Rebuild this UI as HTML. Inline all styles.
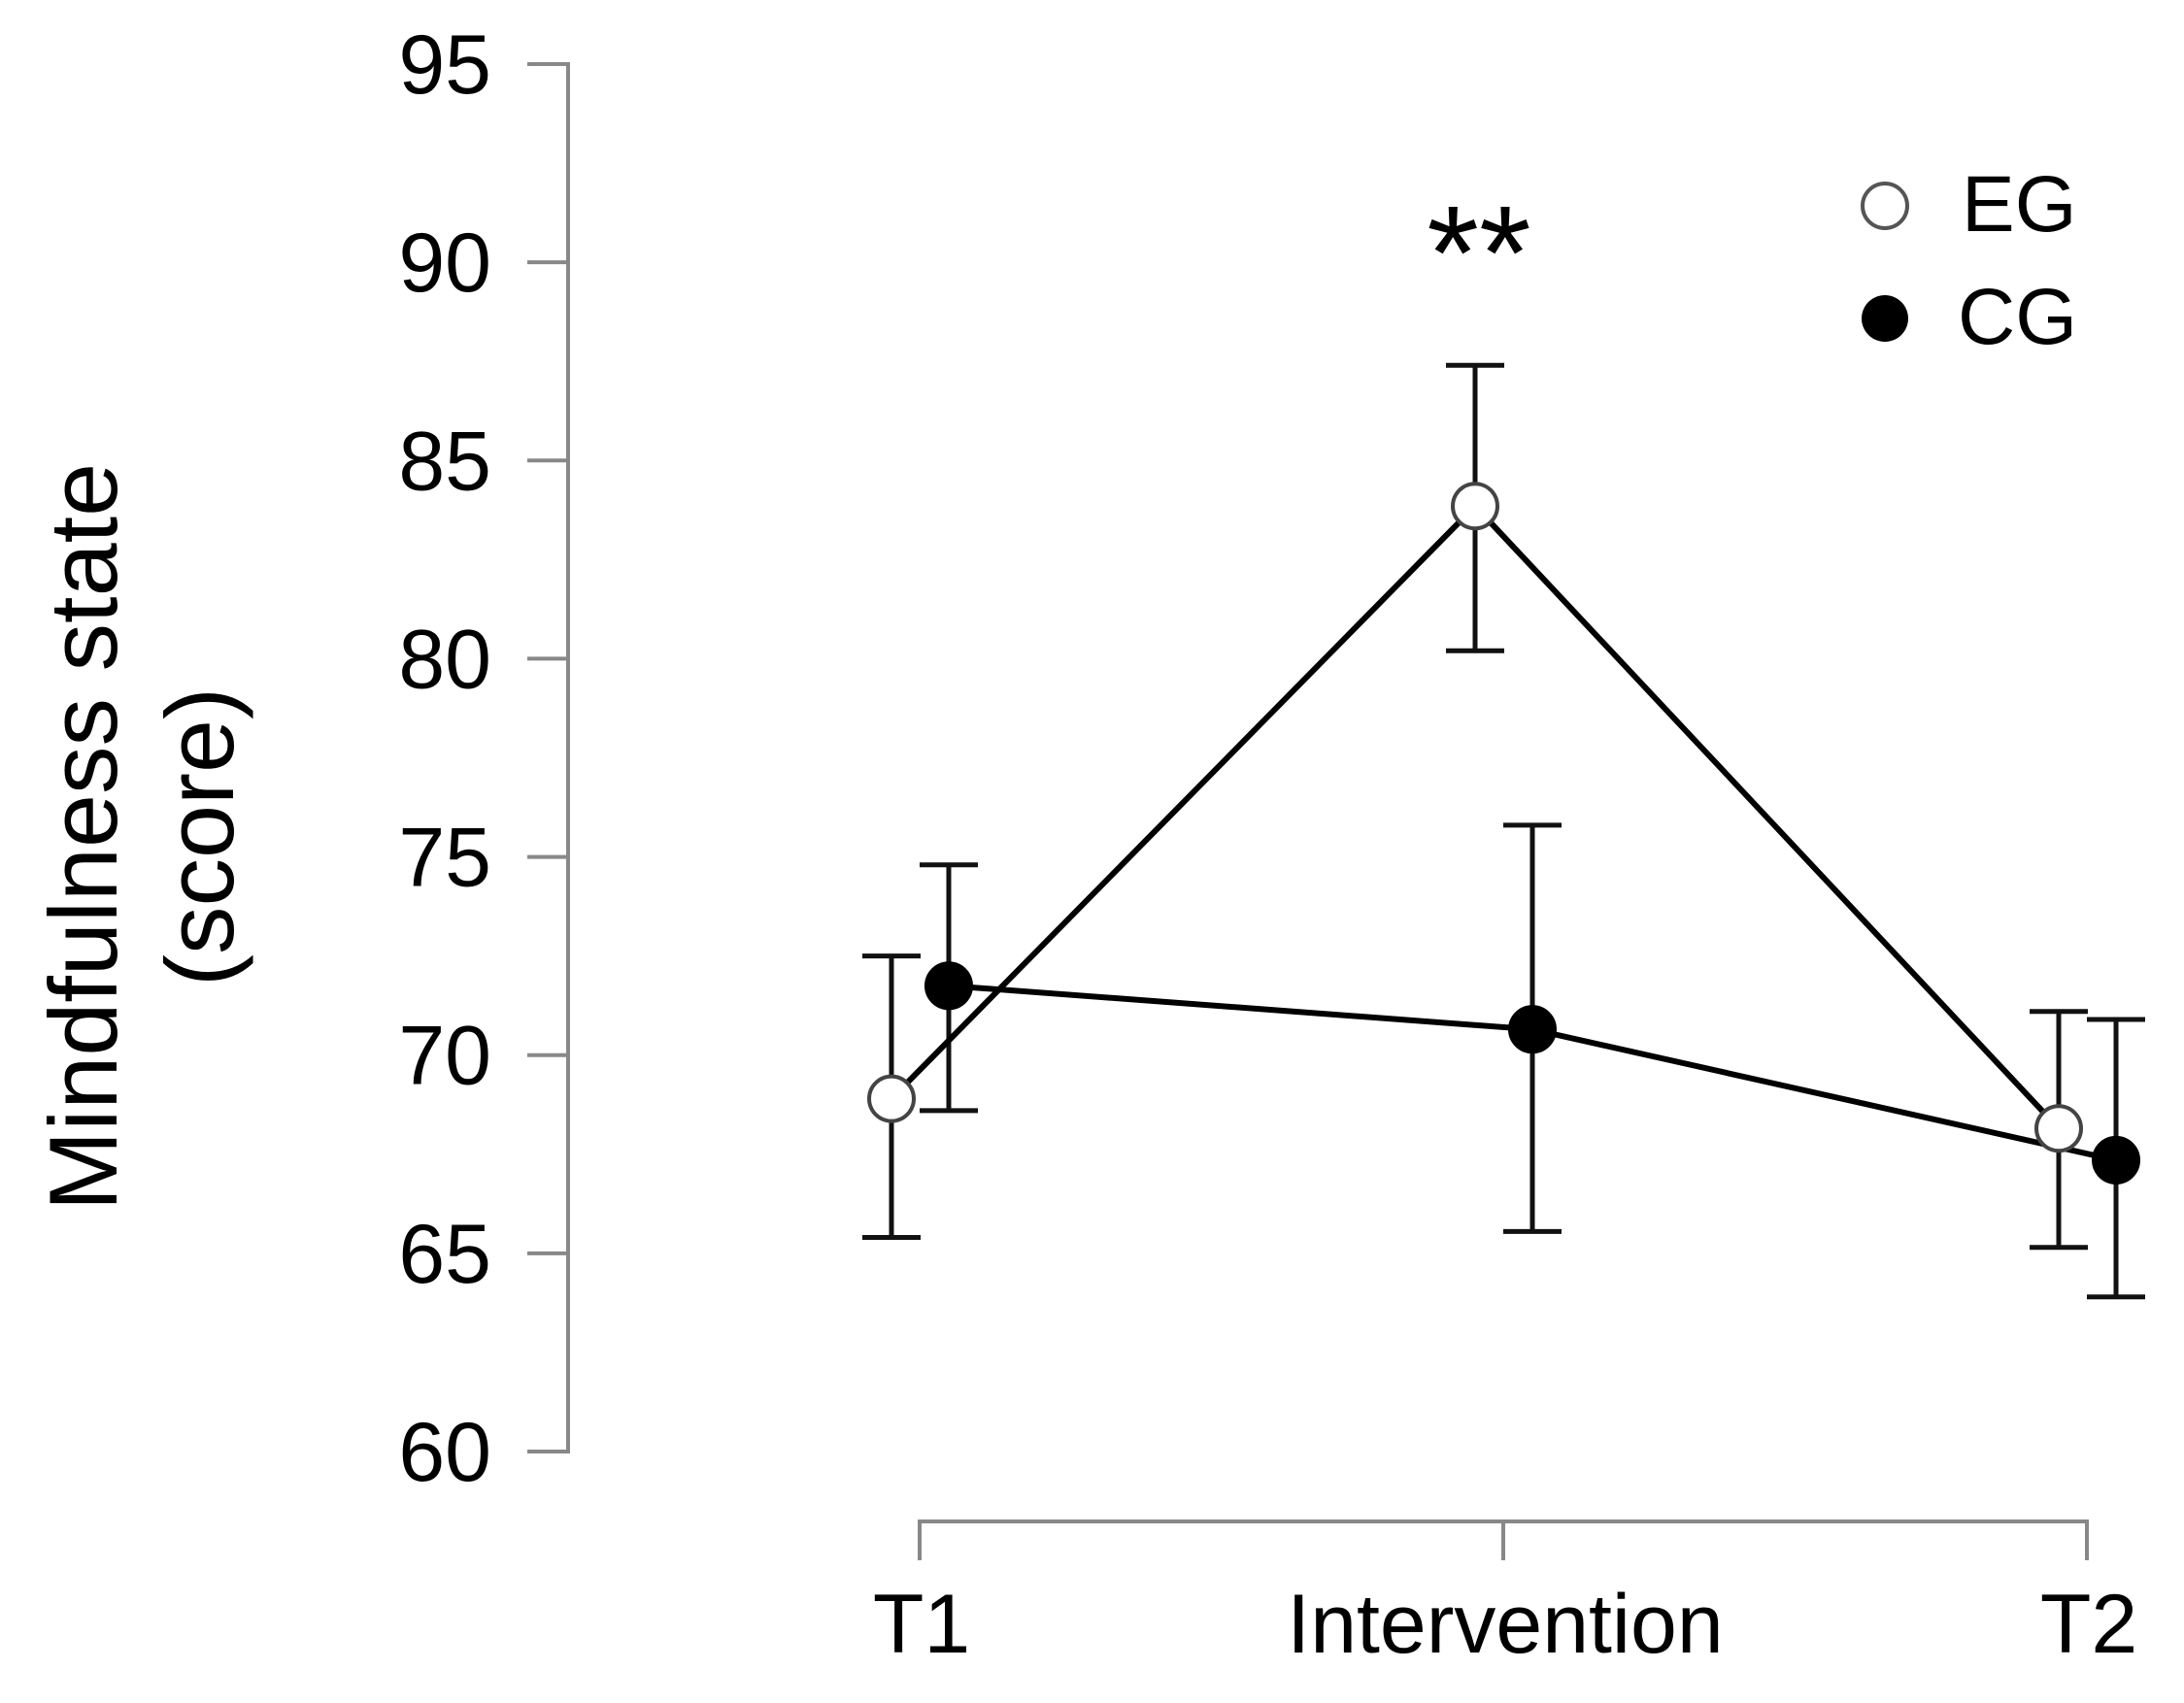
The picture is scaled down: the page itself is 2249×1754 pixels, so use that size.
<!DOCTYPE html>
<html><head><meta charset="utf-8"><style>
html,body{margin:0;padding:0;background:#fff;}
svg{display:block;font-family:"Liberation Sans",Arial,sans-serif;}
</style></head><body>
<svg id="chart" width="2249" height="1754" viewBox="0 0 2249 1754" xmlns="http://www.w3.org/2000/svg">
<g id="axes"></g>
<g id="marks"></g>
<text x="120" y="862" font-size="99" text-anchor="middle" transform="rotate(-90 120 862)">Mindfulness state</text>
<text x="240" y="862" font-size="99" text-anchor="middle" transform="rotate(-90 240 862)">(score)</text>
<text x="1523" y="308" font-size="138" text-anchor="middle">**</text>
<g>
<circle cx="1941" cy="212" r="23" fill="#fff" stroke="#555" stroke-width="4"/>
<text x="2020" y="238" font-size="82">EG</text>
<circle cx="1941" cy="328" r="24" fill="#000"/>
<text x="2016" y="354" font-size="82">CG</text>
</g>
</svg>
<script>
const categories = ["T1", "Intervention", "T2"];
const egMean = [68.9, 83.85, 68.15];
const egUpper = [72.5, 87.4, 71.1];
const egLower = [65.4, 80.2, 65.15];
const cgMean = [71.75, 70.65, 67.35];
const cgUpper = [74.8, 75.8, 70.9];
const cgLower = [68.6, 65.55, 63.9];
const yTicks = [60, 65, 70, 75, 80, 85, 90, 95];

const NS = "http://www.w3.org/2000/svg";
function yScale(v){ return 1495 - (v - 60) * (1495 - 66) / 35; }
function xScale(i){ return 947 + i * 601; }
function mk(tag, attrs, parent){
  const e = document.createElementNS(NS, tag);
  for (const k in attrs) e.setAttribute(k, attrs[k]);
  parent.appendChild(e);
  return e;
}
const axes = document.getElementById('axes');
const marks = document.getElementById('marks');

let yl = mk('line', {x1:585, x2:585, y1:yScale(95), y2:yScale(60), stroke:'#888', 'stroke-width':4}, axes);


yTicks.forEach(t => {
  const y = yScale(t);
  const tk = mk('line', {x1:543, x2:587, y1:y, y2:y, stroke:'#888', 'stroke-width':4}, axes);
  
  
  const lb = mk('text', {x:506, y:y + 30, 'font-size':86, 'text-anchor':'end'}, axes);
  lb.textContent = t;
  
  
});
let xl = mk('line', {x1:xScale(0), x2:xScale(2), y1:1567, y2:1567, stroke:'#888', 'stroke-width':4}, axes);


categories.forEach((c, i) => {
  const x = xScale(i);
  const tk = mk('line', {x1:x, x2:x, y1:1565, y2:1607, stroke:'#888', 'stroke-width':4}, axes);
  
  
  const lb = mk('text', {x:x + 2, y:1702, 'font-size':86, 'text-anchor':'middle'}, axes);
  lb.textContent = c;
  
  
});

function drawSeries(name, mean, up, lo, off, filled){
  const g = mk('g', {}, marks);
  
  
  const pts = mean.map((v, i) => (xScale(i) + off) + ',' + yScale(v)).join(' ');
  const pl = mk('polyline', {points:pts, fill:'none', stroke:'#000', 'stroke-width':6}, g);
  
  
  mean.forEach((v, i) => {
    const x = xScale(i) + off;
    const eb = mk('path', {d:'M' + x + ' ' + yScale(up[i]) + 'V' + yScale(lo[i]) +
      'M' + (x - 30) + ' ' + yScale(up[i]) + 'H' + (x + 30) +
      'M' + (x - 30) + ' ' + yScale(lo[i]) + 'H' + (x + 30),
      fill:'none', stroke:'#111', 'stroke-width':5}, g);
    
    
  });
  mean.forEach((v, i) => {
    const x = xScale(i) + off;
    const c = mk('circle', {cx:x, cy:yScale(v), r:filled ? 24 : 23,
      fill:filled ? '#000' : '#fff', stroke:filled ? '#000' : '#444', 'stroke-width':filled ? 2 : 4}, g);
    
    
  });
}
drawSeries('cg', cgMean, cgUpper, cgLower, 30, true);
drawSeries('eg', egMean, egUpper, egLower, -29, false);
</script>
</body></html>
